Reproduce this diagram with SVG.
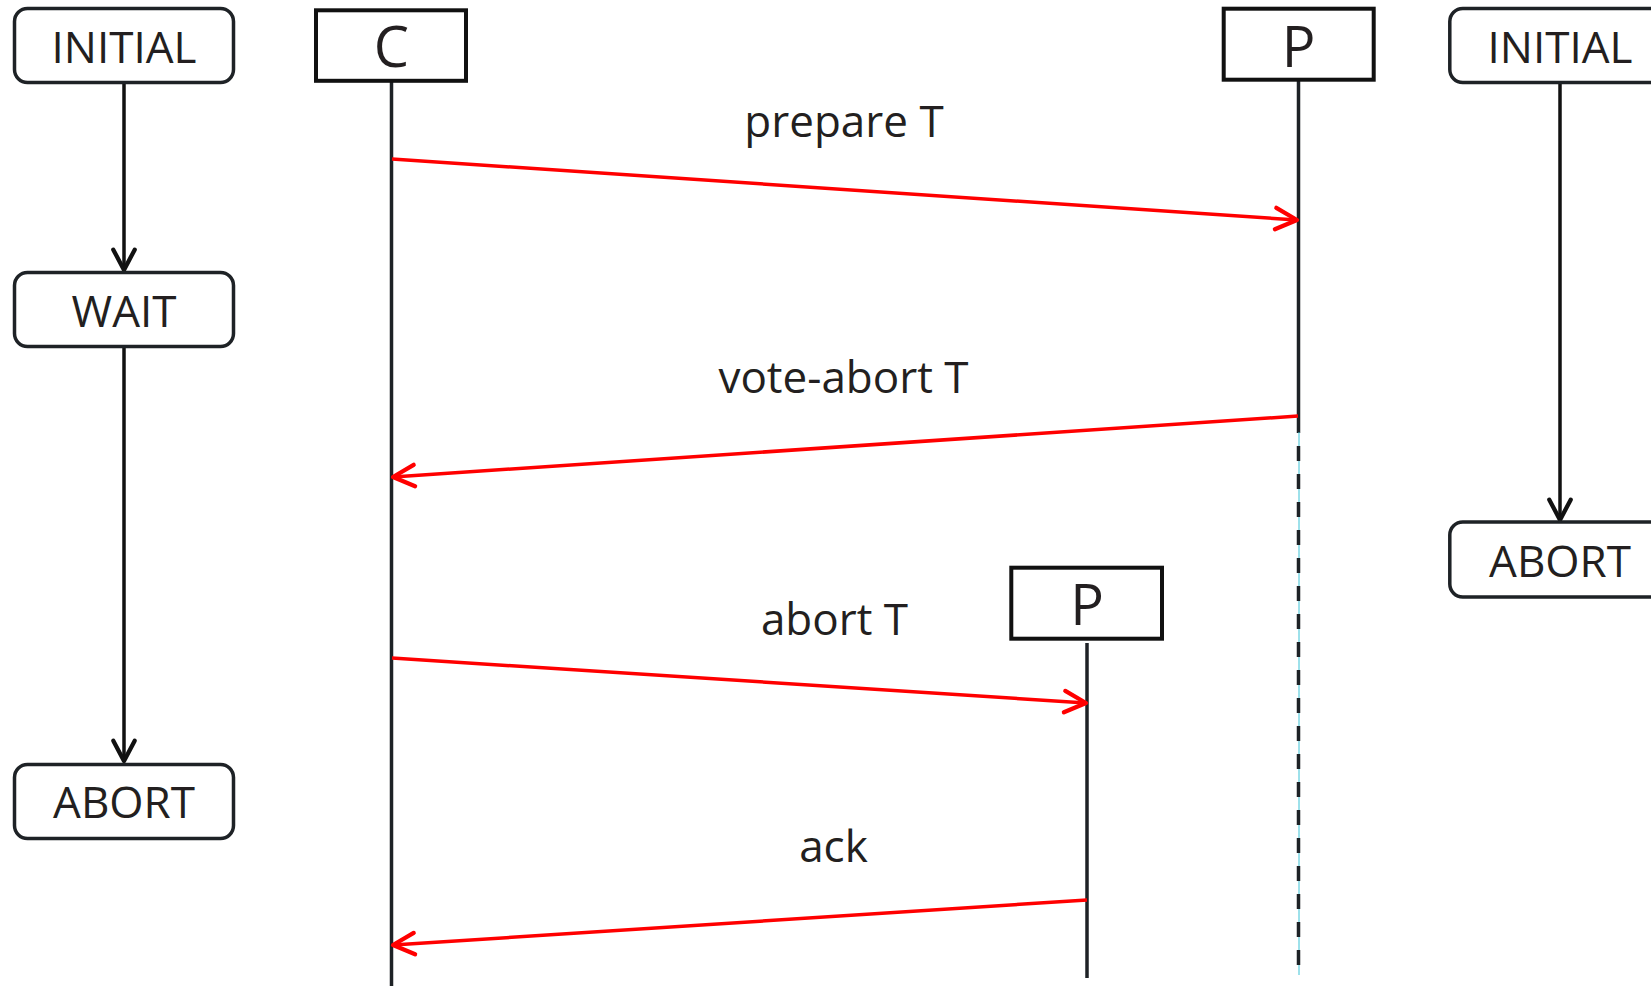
<svg xmlns="http://www.w3.org/2000/svg" width="1651" height="986" viewBox="0 0 1651 986">
<style>
.state{fill:#fff;stroke:#1e2226;stroke-width:3.5}
.actor{fill:#fff;stroke:#111;stroke-width:4}
.t{font-family:"Open Sans","DejaVu Sans",sans-serif;font-size:44px;fill:#231f20;text-anchor:middle}
.big{font-size:56px}
.life{stroke:#1e2226;stroke-width:3.5;fill:none}
.msg{stroke:#ff0000;stroke-width:3.5;fill:none;marker-end:url(#ra)}
.trans{stroke:#111;stroke-width:3.5;fill:none;marker-end:url(#ba)}
</style>
<defs>
<marker id="ra" markerUnits="userSpaceOnUse" markerWidth="30" markerHeight="30" refX="0" refY="0" viewBox="-24 -14 28 28" orient="auto" overflow="visible">
<path d="M-20,-10 L0,0 L-20,10" fill="none" stroke="#ff0000" stroke-width="4" stroke-linecap="round" stroke-linejoin="round"/>
</marker>
<marker id="ba" markerUnits="userSpaceOnUse" markerWidth="30" markerHeight="30" refX="0" refY="0" viewBox="-24 -14 28 28" orient="auto" overflow="visible">
<path d="M-19,-10 L0,0 L-19,10" fill="none" stroke="#111" stroke-width="4" stroke-linecap="round" stroke-linejoin="round"/>
</marker>
</defs>
<rect width="1651" height="986" fill="#fff"/>
<g id="connectors">
<line class="life" x1="391.5" y1="81" x2="391.5" y2="986"/>
<line class="life" x1="1298.5" y1="81" x2="1298.5" y2="433"/>
<line x1="1299" y1="432" x2="1299" y2="975" stroke="#3cc3d6" stroke-width="1"/>
<line class="life" x1="1298.5" y1="446" x2="1298.5" y2="975" stroke-dasharray="15 13"/>
<line class="life" x1="1087" y1="643" x2="1087" y2="978"/>
<line class="trans" x1="124" y1="84" x2="124" y2="270"/>
<line class="trans" x1="124" y1="348" x2="124" y2="761"/>
<line class="trans" x1="1560" y1="84" x2="1560" y2="520"/>
<line class="msg" x1="392" y1="159" x2="1297" y2="220"/>
<line class="msg" x1="1298" y1="416" x2="393" y2="477"/>
<line class="msg" x1="392" y1="658" x2="1086" y2="703"/>
<line class="msg" x1="1087" y1="900" x2="393" y2="945"/>
</g>
<g id="labels">
<text class="t" x="844" y="137">prepare T</text>
<text class="t" x="843.5" y="393">vote-abort T</text>
<text class="t" x="834.5" y="635">abort T</text>
<text class="t" x="833.5" y="862">ack</text>
</g>
<g id="initial-c"><rect class="state" x="14.5" y="8.5" width="219" height="74" rx="13"/><text class="t" x="124" y="63">INITIAL</text></g>
<g id="wait-c"><rect class="state" x="14.5" y="272.5" width="219" height="74" rx="13"/><text class="t" x="124" y="327">WAIT</text></g>
<g id="abort-c"><rect class="state" x="14.5" y="764.5" width="219" height="74" rx="13"/><text class="t" x="124" y="818">ABORT</text></g>
<g id="actor-c"><rect class="actor" x="316" y="10.3" width="150" height="70.5"/><text class="t big" x="391.5" y="67">C</text></g>
<g id="actor-p"><rect class="actor" x="1223.7" y="8.7" width="150" height="71"/><text class="t big" x="1298.5" y="67">P</text></g>
<g id="actor-p2"><rect class="actor" x="1011.3" y="567.7" width="150.7" height="71"/><text class="t big" x="1087" y="625">P</text></g>
<g id="initial-p"><rect class="state" x="1449.8" y="8.5" width="219" height="74" rx="13"/><text class="t" x="1560" y="63">INITIAL</text></g>
<g id="abort-p"><rect class="state" x="1449.8" y="522" width="219" height="75" rx="13"/><text class="t" x="1560" y="577">ABORT</text></g>
</svg>
